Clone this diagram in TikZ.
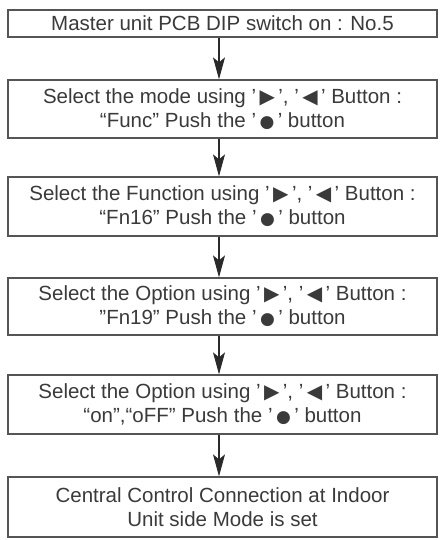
\documentclass[tikz,border=0pt]{standalone}
\usepackage{fontspec}
\setmainfont{Liberation Sans}
\newfontfamily\symf{DejaVu Sans}
\usetikzlibrary{arrows.meta}
\definecolor{ink}{HTML}{3A3A3A}
\definecolor{frame}{HTML}{555555}
\definecolor{arrowc}{HTML}{2A2A2A}
\newcommand{\rtri}{{\symf\fontsize{20}{20}\selectfont ▶}}
\newcommand{\ltri}{{\symf\fontsize{20}{20}\selectfont ◀}}
\newcommand{\bdot}{{\symf\fontsize{17}{17}\selectfont ●}}
\begin{document}
\begin{tikzpicture}[x=1pt,y=-1pt,
  stepbox/.style={draw=frame, line width=1.3pt, minimum width=429pt, text=ink,
    align=center, font=\fontsize{20.5}{24}\selectfont, inner sep=0pt},
  flow/.style={draw=arrowc, line width=1.1pt, -{Stealth[length=22pt,width=12pt,inset=5pt]}}]
\useasboundingbox (0,0) rectangle (445,540);
\node[stepbox, minimum height=27pt] (b1) at (222.5,23.5) {Master unit PCB DIP switch on : No.5};
\node[stepbox, minimum height=58pt] (b2) at (222.5,109) {Select the mode using ’\,\rtri\,’, ’\,\ltri\,’ Button :\\“Func” Push the ’\,\bdot\,’ button};
\node[stepbox, minimum height=59pt] (b3) at (222.5,206.5) {Select the Function using ’\,\rtri\,’, ’\,\ltri\,’ Button :\\“Fn16" Push the ’\,\bdot\,’ button};
\node[stepbox, minimum height=57pt] (b4) at (222.5,306.5) {Select the Option using ’\,\rtri\,’, ’\,\ltri\,’ Button :\\"Fn19" Push the ’\,\bdot\,’ button};
\node[stepbox, minimum height=59pt] (b5) at (222.5,404.5) {Select the Option using ’\,\rtri\,’, ’\,\ltri\,’ Button :\\“on",“oFF” Push the ’\,\bdot\,’ button};
\node[stepbox, minimum height=60pt] (b6) at (222.5,507) {Central Control Connection at Indoor\\Unit side Mode is set};
\foreach \a/\b in {b1/b2,b2/b3,b3/b4,b4/b5,b5/b6}
  \draw[flow] ([xshift=-3.5pt]\a.south) -- ([xshift=-3.5pt]\b.north);
\end{tikzpicture}
\end{document}
